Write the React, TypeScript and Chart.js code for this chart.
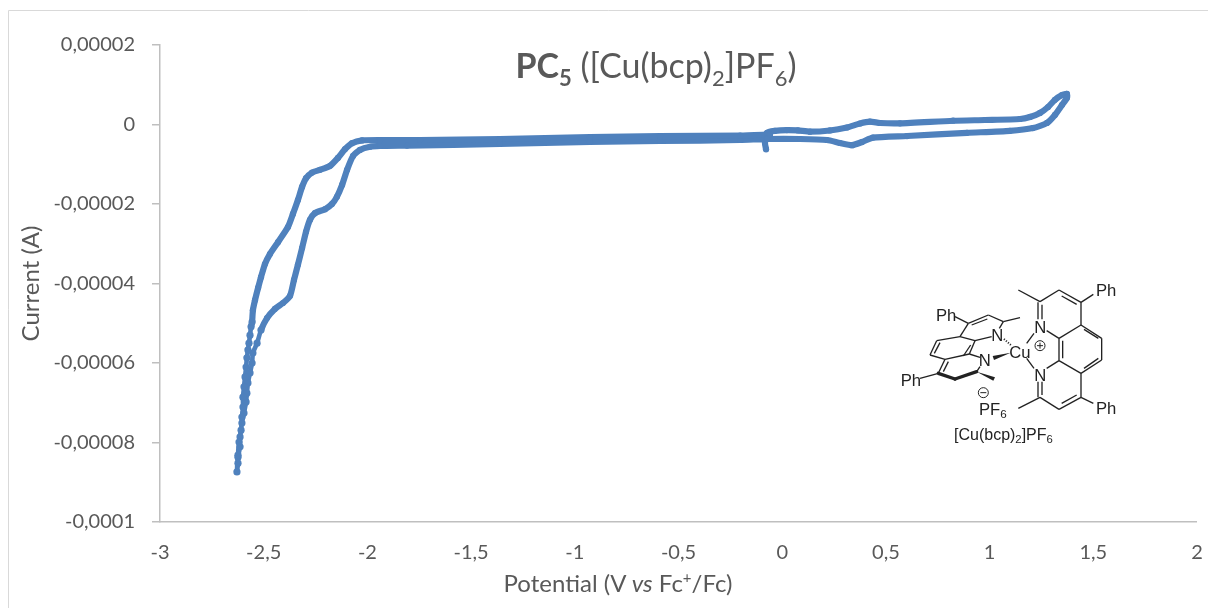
import React, { useEffect, useRef } from "react";
import { Chart, registerables } from "chart.js";

Chart.register(...registerables);

// Potential in V, in scan order
const potentialV = [
  -0.078, -0.083, -0.073, -0.035, 0.023, 0.076, 0.134, 0.23, 0.312, 0.375, 0.423, 0.472, 0.568, 0.824, 0.978, 1.147,
  1.195, 1.243, 1.282, 1.315, 1.349, 1.373,
  1.373, 1.349, 1.315, 1.277, 1.209, 1.098, 0.891, 0.602, 0.438, 0.385, 0.337, 0.279, 0.216, 0.086, -0.073,
  -0.203, -0.589, -0.927, -1.361, -1.809, -1.939,
  -1.987, -2.036, -2.069, -2.098, -2.122, -2.147, -2.171, -2.204, -2.253, -2.277, -2.296, -2.315, -2.335, -2.354,
  -2.373, -2.407, -2.446, -2.484, -2.513, -2.532,
  -2.552, -2.556, -2.566, -2.576, -2.581, -2.585, -2.595, -2.605, -2.614, -2.614, -2.624, -2.629,
  -2.624, -2.624, -2.619, -2.609, -2.605, -2.6, -2.6, -2.595, -2.59, -2.585, -2.581, -2.576, -2.571, -2.566, -2.561, -2.556,
  -2.552, -2.542, -2.527,
  -2.513, -2.494, -2.47, -2.431, -2.383, -2.359, -2.335, -2.315, -2.296, -2.267, -2.229, -2.18, -2.142, -2.108, -2.074,
  -2.026, -1.939, -1.746, -1.361, -0.927, -0.589, -0.203, -0.059,
];

// Current in microamperes, same order
const currentMicroA = [
  -6.2, -4.65, -2.1, -1.6, -1.4, -1.5, -1.8, -1.5, -0.75, 0.25, 0.7, 0.38, 0.3, 0.95, 1.13, 1.38,
  1.9, 2.9, 4.4, 6.2, 7.4, 7.7,
  6.7, 4.9, 2.4, 0.4, -0.9, -1.6, -2.1, -2.9, -3.3, -4.4, -5.2, -4.65, -3.9, -3.65, -3.65,
  -3.9, -4.15, -4.4, -4.9, -5.3, -5.4,
  -5.6, -6.4, -7.9, -11.4, -15.2, -18.2, -20.0, -21.3, -22.3, -24.0, -27.0, -31.1, -35.3, -39.1,
  -43.1, -44.9, -46.4, -48.7, -51.7, -55.0,
  -57.5, -60.0, -62.5, -65.0, -67.6, -69.8, -72.6, -75.1, -78.6, -81.1, -83.7, -87.4,
  -85.2, -83.2, -79.9, -76.9, -73.6, -71.1, -68.6, -66.0, -63.5, -61.0, -58.7, -56.7, -55.0, -53.0, -50.9, -49.7,
  -46.7, -44.2, -41.1,
  -38.4, -35.1, -32.6, -29.6, -25.8, -22.5, -19.0, -15.7, -13.5, -12.1, -11.4, -10.4, -8.4, -6.2, -4.7,
  -4.0, -3.9, -3.9, -3.65, -3.15, -2.9, -2.8, -2.5,
];

const xLabel = "Potential (V vs Fc+/Fc)";
const yLabel = "Current (A)";
const titleText = "PC5 ([Cu(bcp)2]PF6)";

const GREY = "#595959";
const AXIS = "#bfbfbf";
const BLUE = "#4f81bd";
const FONT = "Lato, Carlito, sans-serif";

const frame = {
  id: "frame",
  beforeDraw(chart: any) {
    const { ctx, width, height } = chart;
    ctx.save();
    ctx.strokeStyle = "#d9d9d9";
    ctx.lineWidth = 1;
    ctx.beginPath();
    ctx.moveTo(8.5, height);
    ctx.lineTo(8.5, 10.5);
    ctx.lineTo(width, 10.5);
    ctx.stroke();
    ctx.restore();
  },
};

const bonds: number[][] = [
  [415, 60, 480, 95], [480, 95, 537, 60], [537, 60, 603, 97], [545, 78, 590, 103], [603, 97, 640, 73],
  [474, 97, 474, 148], [486, 104, 486, 148], [500, 182, 537, 205], [603, 97, 603, 165], [537, 205, 603, 165],
  [603, 165, 665, 205], [612, 178, 655, 205], [665, 205, 665, 270], [665, 270, 603, 310], [655, 265, 612, 295],
  [603, 310, 537, 272], [537, 205, 537, 272], [548, 212, 548, 265], [500, 295, 537, 272],
  [474, 335, 474, 382], [486, 335, 486, 375], [480, 382, 415, 415], [480, 382, 537, 418], [537, 418, 603, 382],
  [545, 400, 590, 375], [603, 382, 603, 310], [603, 382, 640, 400], [440, 220, 462, 190], [440, 265, 462, 295],
  [225, 140, 265, 160], [265, 160, 325, 135], [275, 165, 322, 147], [325, 135, 370, 155], [370, 155, 420, 143],
  [370, 155, 358, 175], [335, 200, 285, 212], [265, 160, 240, 200], [240, 200, 285, 212], [170, 212, 240, 200],
  [170, 212, 150, 255], [180, 218, 163, 250], [150, 255, 195, 268], [195, 268, 268, 252], [268, 252, 285, 212],
  [268, 252, 300, 262], [195, 268, 175, 310], [205, 275, 190, 305], [175, 310, 120, 325], [300, 290, 290, 305],
  [250, 258, 272, 225],
];
const heavyBonds: number[][] = [[175, 310, 225, 327], [225, 327, 290, 305]];

function Molecule() {
  const t = (x: number, y: number, s: string, size = 50) => (
    <text x={x} y={y} fontSize={size} fill="#222" fontFamily="Liberation Sans, Arial, sans-serif">{s}</text>
  );
  return (
    <svg
      style={{ position: "absolute", left: 880, top: 270, width: 260, height: 190, pointerEvents: "none" }}
      viewBox="0 0 780 570"
    >
      {bonds.map((b, i) => (
        <line key={i} x1={b[0]} y1={b[1]} x2={b[2]} y2={b[3]} stroke="#222" strokeWidth={4} />
      ))}
      {heavyBonds.map((b, i) => (
        <line key={i} x1={b[0]} y1={b[1]} x2={b[2]} y2={b[3]} stroke="#222" strokeWidth={10} strokeLinecap="round" />
      ))}
      <polygon points="290,305 345,322 340,332" fill="#222" />
      <polygon points="392,248 338,258 342,270" fill="#222" />
      <line x1="372" y1="207" x2="396" y2="228" stroke="#222" strokeWidth={6} strokeDasharray="3 5" />
      {t(648, 77, "Ph")}
      {t(648, 433, "Ph")}
      {t(168, 153, "Ph")}
      {t(62, 347, "Ph")}
      {t(463, 188, "N")}
      {t(463, 333, "N")}
      {t(334, 213, "N")}
      {t(296, 288, "N")}
      {t(388, 263, "Cu")}
      <circle cx={480} cy={227} r={15} fill="none" stroke="#222" strokeWidth={3} />
      <line x1={471} y1={227} x2={489} y2={227} stroke="#222" strokeWidth={3} />
      <line x1={480} y1={218} x2={480} y2={236} stroke="#222" strokeWidth={3} />
      <circle cx={310} cy={368} r={15} fill="none" stroke="#222" strokeWidth={3} />
      <line x1={301} y1={368} x2={319} y2={368} stroke="#222" strokeWidth={3} />
      <text x={297} y={434} fontSize={50} fill="#222" fontFamily="Liberation Sans, Arial, sans-serif">
        PF<tspan fontSize={35} dy={10}>6</tspan>
      </text>
      <text x={222} y={510} fontSize={48} fill="#222" fontFamily="Liberation Sans, Arial, sans-serif">
        [Cu(bcp)<tspan fontSize={34} dy={10}>2</tspan><tspan dy={-10}>]PF</tspan><tspan fontSize={34} dy={10}>6</tspan>
      </text>
    </svg>
  );
}

export default function App() {
  const ref = useRef<HTMLCanvasElement>(null);
  useEffect(() => {
    const chart = new Chart(ref.current as HTMLCanvasElement, {
      type: "scatter",
      data: {
        datasets: [
          {
            label: "PC5",
            data: potentialV.map((x, i) => ({ x, y: currentMicroA[i] * 1e-6 })),
            showLine: true,
            borderColor: BLUE,
            backgroundColor: BLUE,
            borderWidth: 6.2,
            tension: 0.2,
            pointRadius: (c: any) => (c.raw && c.raw.y < -4.9e-5 ? 3.6 : 3.1),
            pointBorderWidth: 0,
            borderCapStyle: "round",
            borderJoinStyle: "round",
            segment: { borderWidth: (c: any) => (c.p0.parsed.y < -5e-5 && c.p1.parsed.y < -5e-5 ? 4.6 : 6.2) },
          },
        ],
      },
      plugins: [frame],
      options: {
        animation: false,
        responsive: false,
        layout: { padding: { left: 0, right: 11, top: 45, bottom: 0 } },
        plugins: { legend: { display: false }, tooltip: { enabled: false }, title: { display: false } },
        scales: {
          x: {
            type: "linear",
            min: -3,
            max: 2,
            afterFit: (s: any) => { s.height = 86; s.paddingLeft = 0; s.paddingRight = 0; },
            grid: { drawOnChartArea: false, drawTicks: false, color: AXIS, lineWidth: 0 },
            border: { color: AXIS, width: 1.5 },
            ticks: {
              stepSize: 0.5,
              padding: 19,
              color: GREY,
              font: { family: FONT, size: 20 },
              maxRotation: 0,
              callback: (v: any) => String(Math.round(v * 10) / 10).replace(".", ","),
            },
          },
          y: {
            type: "linear",
            min: -0.0001,
            max: 0.00002,
            afterFit: (s: any) => { s.width = 160; },
            grid: { drawOnChartArea: false, drawTicks: true, tickLength: 8, color: AXIS, lineWidth: 1.5 },
            border: { color: AXIS, width: 1.5 },
            ticks: {
              stepSize: 0.00002,
              padding: 17,
              color: GREY,
              font: { family: FONT, size: 20 },
              callback: (v: any) => String(Math.round(v * 1e5) / 1e5).replace(".", ","),
            },
            title: { display: true, text: yLabel, color: GREY, font: { family: FONT, size: 24 }, padding: { top: 17, bottom: 0 } },
          },
        },
      },
    } as any);
    return () => chart.destroy();
  }, []);

  return (
    <div style={{ position: "absolute", left: 0, top: 0, width: 1208, height: 608, overflow: "hidden", background: "#fff" }}>
      <canvas ref={ref} width={1208} height={608} style={{ display: "block" }} />
      <div aria-label={titleText} style={{ position: "absolute", left: 356, width: 600, top: 45, textAlign: "center", color: GREY, fontFamily: FONT, fontSize: 34, lineHeight: "40px", whiteSpace: "nowrap" }}>
        <b>PC<sub style={{ fontSize: 22, lineHeight: 0 }}>5</sub></b> ([Cu(bcp)<sub style={{ fontSize: 22, lineHeight: 0 }}>2</sub>]PF<sub style={{ fontSize: 22, lineHeight: 0 }}>6</sub>)
      </div>
      <div aria-label={xLabel} style={{ position: "absolute", left: 318, width: 600, top: 569, textAlign: "center", color: GREY, fontFamily: FONT, fontSize: 24, lineHeight: "28px", whiteSpace: "nowrap" }}>
        Potential (V <i>vs</i> Fc<sup style={{ fontSize: 15, lineHeight: 0 }}>+</sup>/Fc)
      </div>
      <Molecule />
    </div>
  );
}
